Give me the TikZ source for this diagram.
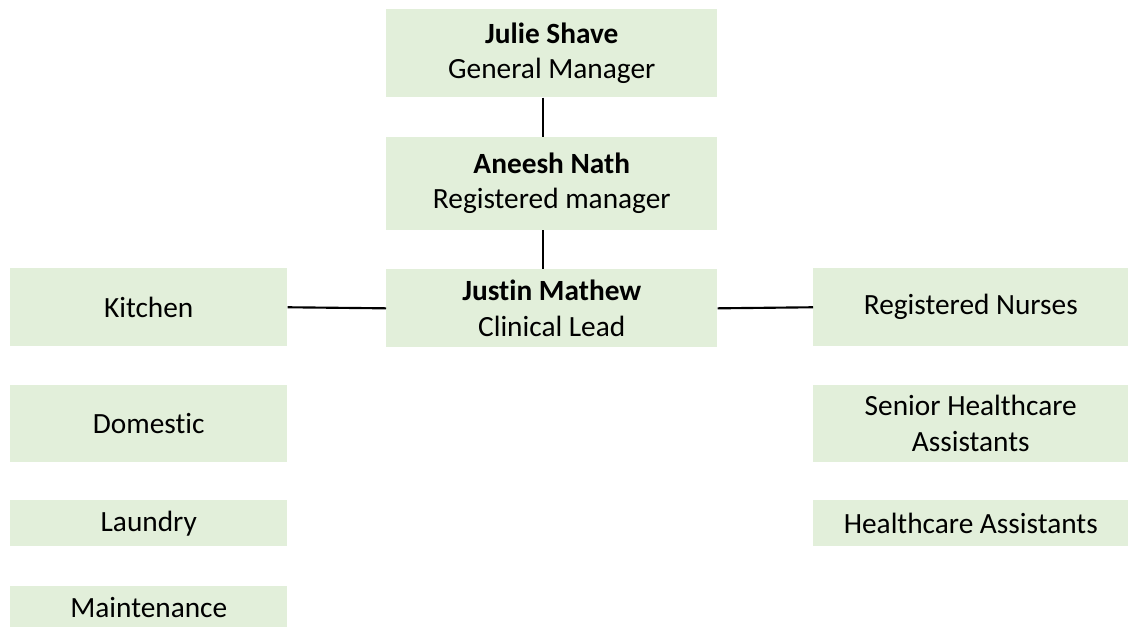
\documentclass[tikz,border=0pt]{standalone}
\usepackage{fontspec}
\setmainfont{Carlito}[Ligatures=NoCommon]
\usetikzlibrary{positioning}
\definecolor{staff-green}{HTML}{E2EFDA}
\tikzset{
  unit/.style 2 args={
    fill=staff-green,
    inner sep=0pt,
    align=center,
    minimum width=#1,
    minimum height=#2,
    anchor=north west},
}

\begin{document}
\begin{tikzpicture}[
  x=0.75pt, y=-0.75pt,
  font=\fontsize{22}{26.5}\selectfont,
  link/.style={line width=1.6pt, black}
]
\useasboundingbox (0,0) rectangle (1128,627);

% Management
\node[unit={248.25pt}{66pt}] (gm) at (386,9) {\textbf{Julie Shave}\\General Manager};
\node[unit={248.25pt}{69.75pt}, below=29.25pt of gm] (rm) {\textbf{Aneesh Nath}\\Registered manager};
\node[unit={248.25pt}{58.5pt}, below=29.25pt of rm] (lead) {\textbf{Justin Mathew}\\Clinical Lead};

% Support staff
\node[unit={207.75pt}{58.5pt}] (kitchen) at (10,268) {Kitchen};
\node[unit={207.75pt}{57.75pt}, below=28.5pt of kitchen] (domestic) {Domestic};
\node[unit={207.75pt}{34.5pt}, below=28.5pt of domestic] (laundry) {Laundry};
\node[unit={207.75pt}{32.25pt}, below=29.25pt of laundry] (maintenance) {Maintenance};

% Care staff
\node[unit={236.25pt}{58.5pt}] (nurses) at (813,268) {Registered Nurses};
\node[unit={236.25pt}{57.75pt}, below=28.5pt of nurses] (seniorhca) {Senior Healthcare\\Assistants};
\node[unit={236.25pt}{34.5pt}, below=28.5pt of seniorhca] (hca) {Healthcare Assistants};

% Lines
\draw[link] ([xshift=-6.4pt]gm.south) -- ([xshift=-6.4pt]rm.north);
\draw[link] ([xshift=-6.4pt]rm.south) -- ([xshift=-6.4pt]lead.north);
\draw[link] (kitchen.east) -- (lead.west);
\draw[link] (lead.east) -- (nurses.west);
\end{tikzpicture}
\end{document}
